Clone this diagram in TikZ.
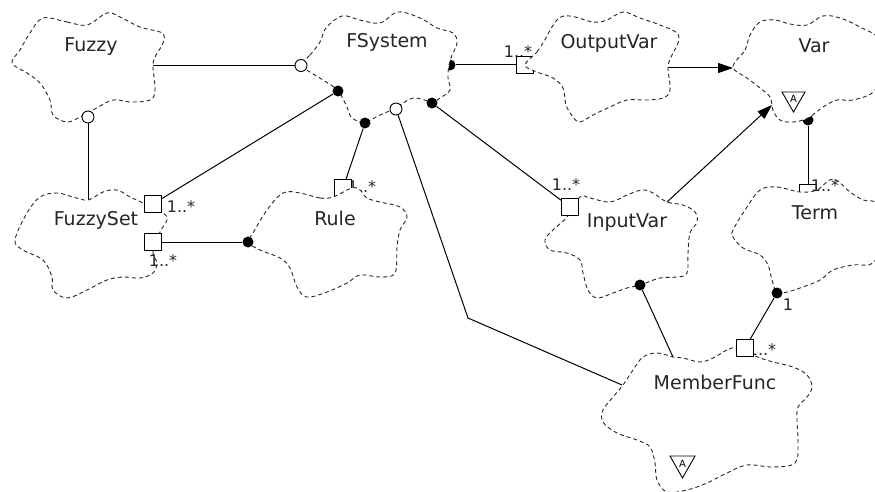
\documentclass[tikz,border=0pt]{standalone}
\usepackage{fontspec}
\setmainfont{DejaVu Sans}
\usetikzlibrary{arrows.meta}

\pgfdeclarelayer{links}
\pgfdeclarelayer{behind}
\pgfdeclarelayer{clouds}
\pgfsetlayers{links,behind,clouds,main}

\tikzset{
  classcloud/.style={draw=black!85, fill=white, line width=0.9pt, dash pattern=on 4pt off 3pt},
  link/.style={draw=black, line width=1pt},
  inherit/.style={link, -{Triangle[length=15pt,width=10pt]}},
  dotmark/.style={circle, fill=black, inner sep=0pt, minimum size=11pt},
  ringmark/.style={circle, draw=black, fill=white, line width=0.9pt, inner sep=0pt, minimum size=12pt},
  boxmark/.style={rectangle, draw=black, fill=white, line width=0.9pt, inner sep=0pt, minimum size=17pt},
  classname/.style={font=\fontsize{19}{22}\selectfont, text=black!85, anchor=base, inner sep=0pt},
  mult/.style={font=\fontsize{16}{18}\selectfont, text=black!85, anchor=base, inner sep=0pt},
  absmark/.style={draw=black, line width=0.9pt, fill=white},
  abstext/.style={font=\fontsize{10}{10}\selectfont, inner sep=0pt},
}

\begin{document}
\begin{tikzpicture}[x=1pt, y=-1pt]
\useasboundingbox (0,0) rectangle (875,492);

% ---------- adornments hidden partly by the class clouds ----------
\begin{pgfonlayer}{behind}
  \node[mult] (m-ov)  at (518,58)  {1..*};
  \node[mult] (m-ru)  at (362,192) {1..*};
  \node[mult] (m-iv)  at (566,190) {1..*};
  \node[mult] (m-fs1) at (181,212) {1..*};
  \node[mult] (m-mf)  at (762,355) {1..*};
  \node[mult] (m-mf1) at (788,310) {1};
  \node[dotmark] (fs-ov) at (450,65)  {};
  \node[dotmark] (var-te) at (808,120) {};
  \node[boxmark] (ov-box) at (525,65)  {};
  \node[boxmark] (ru-box) at (343,188) {};
  \node[boxmark] (te-box) at (808,193) {};
\end{pgfonlayer}

% ---------- adornments drawn over the clouds ----------
\node[mult] (m-te)  at (825,191) {1..*};
\node[mult] (m-fs2) at (163,266) {1..*};
\node[boxmark] (fset-box1) at (153,204) {};
\node[boxmark] (fset-box2) at (153,242) {};
\node[boxmark] (iv-box) at (570,207) {};
\node[boxmark] (mf-box) at (745,348) {};
\node[dotmark] (fs-fset) at (338,91)  {};
\node[dotmark] (fs-ru)   at (365,123) {};
\node[dotmark] (fs-iv)   at (432,103) {};
\node[dotmark] (ru-fset) at (248,242) {};
\node[dotmark] (iv-mf)   at (640,285) {};
\node[dotmark] (te-mf)   at (777,293) {};
\node[ringmark] (fs-fz)  at (301,65.5) {};
\node[ringmark] (fz-fset) at (88,117) {};
\node[ringmark] (fs-mf)  at (396,109) {};

% free ends of the connectors on the cloud outlines
\coordinate (fz-e)   at (153,65.5);
\coordinate (fset-n) at (88,200);
\coordinate (mf-bend) at (468,318);
\coordinate (mf-w)   at (622,385);
\coordinate (mf-n)   at (673,357);
\coordinate (ov-e)   at (668,68);
\coordinate (var-w)  at (733,68);
\coordinate (iv-ne)  at (667,202);
\coordinate (var-sw) at (772,105);

% ---------- associations ----------
\begin{pgfonlayer}{links}
  \fill[white] (0,0) rectangle (875,492);
  \draw[link] (fz-e) -- (fs-fz);
  \draw[link] (fz-fset) -- (fset-n);
  \draw[link] (fs-fset) -- (fset-box1);
  \draw[link] (ru-fset) -- (fset-box2);
  \draw[link] (fs-ru) -- (ru-box);
  \draw[link] (fs-ov) -- (ov-box);
  \draw[link] (fs-iv) -- (iv-box);
  \draw[link] (var-te) -- (te-box);
  \draw[link] (te-mf) -- (mf-box);
  \draw[link] (iv-mf) -- (mf-n);
  \draw[link] (fs-mf) -- (mf-bend) -- (mf-w);
\end{pgfonlayer}

% ---------- class clouds ----------
\begin{pgfonlayer}{clouds}
  % Fuzzy
  \path[classcloud] plot[smooth cycle, tension=0.6] coordinates {
    (43,18) (67,22) (87,25) (107,13) (120,17) (140,27) (162,33) (163,43)
    (155,57) (153,67) (155,90) (150,100) (130,102) (113,100) (93,110)
    (80,117) (67,122) (53,115) (50,100) (40,83) (27,73) (12,63) (20,50) (30,33)};
  % FSystem
  \path[classcloud] plot[smooth cycle, tension=0.6] coordinates {
    (301,65) (310,55) (320,42) (326,28) (342,16) (360,20) (380,23) (398,12)
    (420,18) (437,28) (453,33) (457,43) (452,55) (449,65) (448,78) (450,90)
    (440,98) (432,102) (413,98) (396,108) (380,115) (365,122) (352,118)
    (347,107) (342,97) (338,90) (323,80) (310,72)};
  % OutputVar
  \path[classcloud] plot[smooth cycle, tension=0.6] coordinates {
    (525,65) (537,52) (543,43) (557,20) (570,16) (593,22) (607,20) (623,12)
    (640,18) (660,25) (677,33) (678,43) (672,55) (668,67) (670,90) (663,98)
    (647,100) (627,100) (610,107) (593,115) (580,122) (573,117) (566,105)
    (563,88) (553,78) (537,72)};
  % Var
  \path[classcloud] plot[smooth cycle, tension=0.6] coordinates {
    (733,67) (745,50) (750,35) (760,22) (775,20) (790,24) (807,25) (823,16)
    (840,18) (860,27) (880,40) (876,63) (875,90) (853,100) (837,100)
    (823,107) (808,118) (793,122) (780,120) (773,110) (770,97) (760,88) (747,78)};
  % FuzzySet
  \path[classcloud] plot[smooth cycle, tension=0.6] coordinates {
    (143,203) (130,197) (117,190) (103,192) (88,200) (73,197) (57,193)
    (40,197) (27,213) (15,240) (23,250) (43,260) (52,277) (53,290) (67,298)
    (87,290) (107,280) (123,277) (140,278) (153,273) (157,263) (153,252)
    (160,232) (167,220) (163,213)};
  % Rule
  \path[classcloud] plot[smooth cycle, tension=0.6] coordinates {
    (333,197) (320,198) (300,193) (283,193) (267,210) (253,233) (248,242)
    (260,250) (280,258) (290,268) (297,287) (307,297) (327,292) (347,283)
    (360,275) (380,277) (395,273) (397,247) (400,230) (407,217) (400,207)
    (380,202) (367,198) (360,190) (352,188)};
  % InputVar
  \path[classcloud] plot[smooth cycle, tension=0.6] coordinates {
    (580,197) (590,198) (610,202) (627,195) (642,190) (653,193) (667,202)
    (683,205) (695,212) (697,222) (690,233) (688,253) (687,273) (677,277)
    (660,278) (640,285) (627,288) (613,293) (597,298) (588,290) (583,273)
    (580,260) (567,253) (550,250) (545,240) (553,230) (567,217)};
  % Term
  \path[classcloud] plot[smooth cycle, tension=0.6] coordinates {
    (760,190) (777,187) (800,192) (817,190) (833,179) (850,192) (863,200)
    (878,205) (880,240) (873,263) (853,265) (833,270) (820,280) (800,288)
    (787,292) (777,293) (772,280) (768,265) (760,255) (743,248) (733,237)
    (733,230) (747,207)};
  % MemberFunc
  \path[classcloud] plot[smooth cycle, tension=0.6] coordinates {
    (737,348) (727,350) (713,358) (700,362) (683,358) (673,357) (657,353)
    (643,357) (633,370) (623,385) (613,397) (603,410) (603,422) (617,433)
    (637,440) (650,447) (655,463) (657,480) (667,492) (687,490) (707,483)
    (727,473) (747,465) (773,467) (795,463) (798,443) (797,420) (798,407)
    (807,397) (812,387) (807,375) (793,367) (773,362) (760,358) (753,355)};
\end{pgfonlayer}

% ---------- generalisations ----------
\draw[inherit] (ov-e) -- (var-w);
\draw[inherit] (iv-ne) -- (var-sw);

% ---------- class names ----------
\node[classname] (c-fuzzy)  at (91,52)   {Fuzzy};
\node[classname] (c-fsys)   at (387,48)  {FSystem};
\node[classname] (c-out)    at (609,49)  {OutputVar};
\node[classname] (c-var)    at (814,53)  {Var};
\node[classname] (c-fset)   at (96,225)  {FuzzySet};
\node[classname] (c-rule)   at (335,225) {Rule};
\node[classname] (c-in)     at (627,227) {InputVar};
\node[classname] (c-term)   at (815,219) {Term};
\node[classname] (c-mf)     at (715,389) {MemberFunc};

% ---------- abstract class adornments ----------
\draw[absmark] (782,92) -- (805,92) -- (793.5,112) -- cycle;
\node[abstext] (var-abs) at (793.5,99) {A};
\draw[absmark] (670,456) -- (695,456) -- (682.5,478) -- cycle;
\node[abstext] (mf-abs) at (682.5,464) {A};
\end{tikzpicture}
\end{document}
